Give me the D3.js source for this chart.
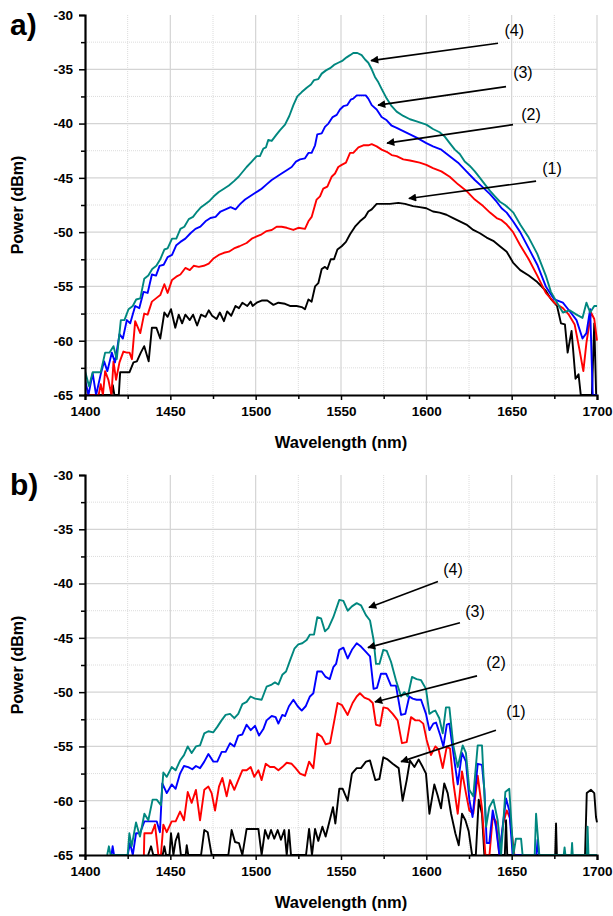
<!DOCTYPE html>
<html>
<head>
<meta charset="utf-8">
<script src="https://cdn.jsdelivr.net/npm/d3@7"></script>
<style>
  body { margin: 0; background: #fff; }
  svg { display: block; font-family: Arial, "Liberation Sans", sans-serif; }
</style>
</head>
<body>
<svg id="chart"></svg>
<script>
// ---- data: [wavelength nm, power dBm] ----
const a1 = [[1400,-65],[1415.5,-65],[1416.3,-64.1],[1417.2,-65],[1419.8,-65],[1420.6,-62.9],[1423.5,-62.9],[1426.1,-62.9],[1428.4,-62],[1430.4,-61.9],[1432.7,-61.1],[1434.7,-60.5],[1437.3,-61.9],[1439.2,-58.8],[1441.8,-58.8],[1444.1,-59.8],[1446.5,-57.4],[1448.4,-57.8],[1450.4,-57.1],[1452.9,-58.8],[1454.9,-57.6],[1456.9,-58.4],[1458.8,-57.6],[1461.4,-58.1],[1463.3,-57.6],[1465.7,-58.6],[1468,-57.6],[1470.6,-57.8],[1472.5,-57.2],[1474.5,-57.7],[1477.1,-58],[1479,-57.4],[1481.4,-58.2],[1483.3,-57.3],[1485.7,-57.7],[1488.2,-56.8],[1490.2,-57],[1492.2,-56.5],[1495.1,-56.8],[1497.1,-56.4],[1498.2,-56.8],[1500.6,-56.5],[1503.5,-56.3],[1506.8,-56.3],[1510.4,-56.7],[1513.3,-56.5],[1517.2,-56.6],[1520.1,-56.8],[1524,-56.8],[1527,-56.9],[1528.9,-57.1],[1530.9,-56.2],[1532.8,-56.4],[1534.8,-55],[1536.7,-54.7],[1538.7,-53.4],[1540.6,-53.2],[1542,-53.4],[1544,-52.5],[1545.9,-52.5],[1547.9,-51.6],[1550.4,-51.3],[1552.9,-50.9],[1555.3,-50.2],[1558.2,-49.5],[1561.1,-49],[1564.1,-48.6],[1566,-48.1],[1568,-47.9],[1570.9,-47.4],[1574.8,-47.4],[1578.7,-47.4],[1583.6,-47.3],[1587.5,-47.4],[1592.2,-47.6],[1596.1,-47.7],[1600,-47.8],[1603.9,-48.1],[1607.8,-48.2],[1611.8,-48.4],[1615.7,-48.7],[1619.6,-49],[1623.5,-49.3],[1627.5,-49.8],[1631.4,-50.1],[1635.3,-50.5],[1639.2,-50.8],[1643.1,-51.3],[1647.1,-51.8],[1650.8,-52.8],[1655,-53.5],[1660,-54],[1665,-54.6],[1670,-55.4],[1673.2,-56.2],[1676.6,-56.8],[1678.9,-58.4],[1681.2,-58.5],[1682.8,-61.1],[1685.1,-59.1],[1687.4,-63.5],[1689.2,-63.1],[1690.5,-65],[1697,-65],[1698.4,-58.4],[1699.5,-65]];

const a2 = [[1400,-65],[1408,-65],[1409.2,-64],[1410.5,-65],[1411.8,-62.8],[1413.7,-63.6],[1415.5,-65],[1416.7,-61.9],[1418.2,-63.6],[1420.2,-62],[1422.5,-61],[1424.5,-61.1],[1426.1,-61.1],[1427.5,-61.7],[1429.4,-58.2],[1432.4,-59.3],[1434.7,-57.5],[1436.7,-57.6],[1439.2,-56.4],[1441.6,-56.1],[1444.1,-55.8],[1446.5,-54.8],[1448.4,-55.6],[1451,-54.4],[1453.5,-54.1],[1455.9,-53.9],[1458.8,-53.3],[1461.4,-53.5],[1463.7,-53.1],[1466.7,-53.2],[1469.6,-53.1],[1472.5,-52.9],[1475.5,-52.4],[1478.4,-52.1],[1481.4,-51.9],[1484.3,-51.8],[1487.3,-51.5],[1490.5,-51.3],[1494.7,-51],[1497.7,-50.6],[1500.6,-50.4],[1503.5,-50.2],[1506.4,-49.9],[1509.4,-49.8],[1512.3,-49.5],[1515.2,-49.5],[1518.2,-49.6],[1522.1,-49.8],[1525,-49.6],[1528.9,-49.7],[1530.9,-49],[1532.8,-48.6],[1535.7,-47],[1537.7,-46.7],[1539.6,-46],[1542,-45.8],[1544.5,-44.9],[1546.5,-44.6],[1548.4,-44],[1550.4,-43.8],[1552.9,-43.6],[1555.3,-42.7],[1557.2,-42.7],[1560.2,-42.2],[1563.1,-42],[1566,-42],[1568,-41.9],[1570.9,-42.1],[1573.8,-42.4],[1576.8,-42.6],[1579.7,-42.9],[1582.6,-43],[1586.5,-43.3],[1590.4,-43.4],[1596.1,-43.6],[1600,-43.8],[1603.9,-44.1],[1608.8,-44.4],[1613.7,-44.9],[1618.6,-45.6],[1623.5,-46.2],[1628.4,-47],[1633.3,-47.6],[1637.3,-48.2],[1641.2,-48.7],[1644.1,-48.9],[1647.1,-49.3],[1650.8,-50],[1655,-51.2],[1660,-52.5],[1665,-54],[1670,-55.6],[1675,-56.5],[1680,-57],[1683.5,-57.6],[1686.9,-58.5],[1689.7,-60.8],[1692,-62.8],[1693.8,-60.2],[1696.5,-57.4],[1698.4,-58],[1700,-60]];

const a3 = [[1400,-63.6],[1402,-65],[1404.5,-63],[1406.5,-65],[1409.2,-63.1],[1411.2,-61.9],[1413.1,-62.8],[1415.7,-61.1],[1417.6,-62],[1420.2,-59.4],[1422.2,-59.8],[1424.5,-58.1],[1426.5,-58.4],[1429.4,-56.8],[1431.8,-57],[1434.3,-55.5],[1436.7,-55.6],[1439.2,-53.9],[1441.6,-54],[1443.7,-53.1],[1446.1,-53],[1448.4,-52.3],[1451,-52.1],[1453.5,-51.2],[1455.9,-50.9],[1458.8,-50.6],[1461.8,-50.1],[1464.7,-49.7],[1467.6,-49.5],[1470.6,-49],[1473.5,-48.7],[1476.5,-48.6],[1479.4,-48.1],[1482.4,-47.9],[1485.3,-47.7],[1488.2,-47.9],[1491,-47.4],[1493.8,-47],[1496.7,-46.7],[1499.6,-46.4],[1501.6,-46.2],[1503.5,-46],[1506.4,-45.6],[1509.4,-45.2],[1512.3,-44.9],[1515.2,-44.6],[1518.2,-44.3],[1521.1,-44],[1523.6,-43.5],[1526,-43.3],[1528.9,-43.2],[1530.9,-42.7],[1532.8,-42.7],[1534.8,-42],[1536.1,-41],[1538.7,-40.9],[1540.6,-40.3],[1542.6,-40],[1545.1,-39.4],[1547.5,-39.2],[1549.4,-38.7],[1551.4,-38.4],[1553.7,-38.3],[1555.7,-37.8],[1557.2,-37.7],[1559.2,-37.4],[1562,-37.4],[1564.5,-37.4],[1566,-37.7],[1568,-38.3],[1570.9,-38.7],[1573.8,-39.4],[1576.8,-39.7],[1579.7,-40.2],[1582.6,-40.4],[1586.5,-40.7],[1590.4,-41],[1594.3,-41.3],[1600,-41.8],[1603.9,-42.1],[1608.8,-42.4],[1613.7,-43],[1618.6,-43.6],[1623.5,-44.4],[1628.4,-45.2],[1633.3,-45.9],[1637.3,-46.5],[1641.2,-47.2],[1644.1,-47.8],[1647.1,-48.2],[1650.8,-49],[1655,-50],[1660,-51.5],[1665,-53],[1670,-55],[1675,-56.2],[1680,-56.5],[1684.6,-57.4],[1688,-58.1],[1691.5,-59.8],[1693.8,-59.3],[1696,-57.1],[1697.5,-65],[1700,-65]];

const a4 = [[1400,-62.8],[1402.4,-64.2],[1404.5,-62.9],[1409.2,-62.9],[1411.8,-61.1],[1414.3,-61.1],[1416.7,-60.5],[1418.6,-61.7],[1421,-58.1],[1423.1,-58.1],[1425.5,-57.1],[1428,-56.8],[1430,-56.2],[1432.4,-56.1],[1434.7,-54.3],[1437.1,-54],[1439.4,-53.4],[1441.8,-53.1],[1444.1,-52.5],[1446.5,-51.6],[1448.4,-51.5],[1451,-50.6],[1453.5,-50.6],[1455.9,-49.7],[1458.2,-49.5],[1460.8,-48.8],[1463.3,-48.6],[1465.7,-48.1],[1468,-47.7],[1470.6,-47.4],[1473.1,-47.1],[1475.5,-46.7],[1478.4,-46.3],[1481.4,-46],[1484.3,-45.7],[1487.3,-45.3],[1490,-44.9],[1494.7,-44],[1497.7,-43.5],[1500.6,-43],[1502.5,-43],[1504.5,-42.3],[1506,-42.2],[1507.4,-41.5],[1509.4,-41.6],[1512.3,-41],[1514.3,-40.6],[1517.2,-40.1],[1519.7,-39.3],[1522.1,-38.3],[1524.4,-37.5],[1527,-37.1],[1529.9,-36.7],[1532.4,-36.4],[1534.2,-36],[1536.7,-35.9],[1538.7,-35.4],[1541.2,-35.1],[1543.6,-34.9],[1545.9,-34.6],[1548.4,-34.4],[1551,-34.2],[1553.3,-33.9],[1555.3,-33.7],[1557.2,-33.5],[1559.6,-33.5],[1562.1,-33.7],[1564.1,-34.1],[1566,-34.4],[1568,-35],[1569.9,-35.7],[1571.9,-36.2],[1573.8,-36.8],[1576.8,-37.7],[1579.7,-38.4],[1582.6,-38.9],[1586.5,-39.3],[1590.4,-39.6],[1594.3,-39.8],[1600,-40.1],[1603.9,-40.5],[1607.8,-40.8],[1610.8,-41.2],[1613.7,-41.8],[1616.7,-42.4],[1619.6,-42.8],[1622.5,-43.5],[1625.5,-43.9],[1628.4,-44.4],[1631.4,-45],[1634.3,-45.6],[1637.3,-46.2],[1640.2,-46.7],[1643.1,-47.2],[1646.1,-47.5],[1649,-47.9],[1651,-48.2],[1655,-49.3],[1660,-50.5],[1665,-52],[1670,-54],[1673,-55.5],[1676.6,-56.5],[1680,-57.4],[1684,-57.2],[1688,-57.6],[1691.5,-57.9],[1693.8,-56.5],[1696,-57.4],[1698.4,-56.8],[1700,-56.8]];

const b1 = [[1437,-65],[1438.7,-64.2],[1440,-65],[1445.5,-65],[1446.5,-64.2],[1447.5,-65],[1449.5,-65],[1450.4,-63],[1451.8,-65],[1453.1,-63.7],[1454.7,-63],[1456.2,-65],[1459,-65],[1459.6,-64.1],[1460.5,-65],[1468,-65],[1469.9,-62.7],[1471.9,-62.9],[1474.2,-65],[1484,-65],[1485.9,-62.7],[1487.9,-63.8],[1490.2,-63.9],[1492.2,-65],[1494.7,-62.6],[1501.6,-62.6],[1503.5,-65],[1505.5,-62.7],[1507.4,-63.5],[1509,-62.7],[1510.9,-63.5],[1512.9,-62.7],[1514.8,-63.6],[1516.8,-62.7],[1518.2,-65],[1519.5,-62.7],[1520.7,-65],[1529.5,-65],[1531.3,-62.6],[1533,-65],[1534.8,-62.6],[1536.7,-63.7],[1539.1,-62.4],[1541,-63.3],[1543.4,-61.8],[1545.3,-60.6],[1546.7,-62.1],[1549,-58.9],[1551,-58.9],[1553.9,-60],[1556.4,-57.5],[1559.2,-57],[1561.7,-57],[1564.6,-56.4],[1567,-56.3],[1570.1,-58.1],[1572.5,-58],[1574.8,-56],[1577.3,-56.2],[1580.3,-56.6],[1583.8,-57],[1586.1,-60],[1588.5,-58.1],[1590.4,-56.3],[1593,-56.9],[1595.5,-56.2],[1597.9,-56.9],[1599.8,-57.5],[1601.8,-61.2],[1604.7,-58.5],[1606.6,-59.5],[1608.6,-60.7],[1610.5,-58.4],[1612.5,-59.3],[1614.5,-61.2],[1617,-63],[1619,-64.1],[1620.9,-61.2],[1622.9,-61.8],[1624.8,-62.8],[1626.8,-65],[1629,-65],[1630.7,-59.9],[1632.6,-61.2],[1634,-65],[1646,-65],[1646.7,-61.8],[1647.4,-65],[1675.5,-65],[1676,-62.1],[1676.5,-65],[1693,-65],[1694,-59.3],[1696.5,-59],[1698.4,-59.3],[1699.4,-61.5],[1700,-62]];

const b2 = [[1434.5,-65],[1434.8,-63],[1439.1,-63],[1441,-62.2],[1443,-65],[1444.5,-65],[1445.9,-62.2],[1447.9,-62.9],[1450.8,-61.9],[1453.1,-61.9],[1455.7,-61],[1458,-61.8],[1460.2,-59.2],[1462.5,-60.2],[1465,-59],[1467.4,-61.8],[1469.9,-59],[1472.3,-58.7],[1474.2,-59.3],[1476.2,-60.9],[1478.5,-58.7],[1480.5,-57.9],[1483,-59.6],[1485,-58.1],[1487.5,-59],[1489.8,-58.1],[1492.2,-57.2],[1494.7,-57.2],[1497.1,-56.9],[1499.2,-57.8],[1501.6,-57.2],[1503.5,-58.1],[1505.9,-56.6],[1508.4,-56.9],[1510.9,-56.9],[1513.3,-57.2],[1515.6,-56.9],[1518.2,-56.5],[1521.1,-56.6],[1523.4,-57],[1526,-57.5],[1528.9,-57.7],[1531.3,-56.4],[1533.8,-57],[1536.1,-53.8],[1538.7,-54.1],[1541,-54.8],[1543.6,-54.7],[1546.1,-52.6],[1548,-51],[1550.6,-51.2],[1553.9,-52.1],[1556.8,-51],[1559.2,-50.4],[1561.1,-50.1],[1563.7,-50.5],[1566.6,-50.7],[1568.6,-51],[1570.5,-53],[1572.9,-53.1],[1574.8,-51.4],[1577.3,-51.5],[1580.3,-52],[1583.2,-52.6],[1585.7,-54.7],[1588.5,-54.6],[1591,-52.3],[1593.6,-52.6],[1595.9,-52.6],[1598.2,-52.9],[1600.2,-54.4],[1602.7,-55.8],[1605.3,-55],[1607.2,-55.3],[1609.6,-57],[1612,-55],[1613.9,-55.2],[1615.8,-58.3],[1618.4,-61.2],[1620.9,-57.3],[1623.2,-59.3],[1625.2,-60.9],[1627.5,-61.2],[1630.1,-57.7],[1632.6,-60.7],[1634.6,-65],[1637,-65],[1638.9,-61.5],[1640.8,-61.9],[1642.8,-65],[1645.1,-62.1],[1647.1,-60.9],[1649,-61.6],[1651.6,-65]];

const b3 = [[1415.5,-65],[1416.2,-64.2],[1417,-65],[1425,-65],[1426.4,-63.9],[1428,-65],[1429.9,-63],[1432.2,-63],[1434.8,-61.9],[1437.1,-61.9],[1439.6,-61.9],[1442,-61.9],[1443.9,-62.9],[1445.3,-58.4],[1447.9,-59.3],[1450.8,-58.5],[1453.1,-58.9],[1455.7,-57.5],[1458,-56.8],[1460.5,-56.9],[1462.9,-57.1],[1465,-56.8],[1467.4,-57],[1469.9,-56.4],[1472.3,-55.7],[1475.2,-56.4],[1477.5,-56.4],[1480.1,-55.5],[1482.4,-55.5],[1485,-54.7],[1487.5,-55],[1489.8,-54],[1492.2,-53.9],[1494.7,-53],[1497.1,-53.5],[1499.6,-53.1],[1502,-54],[1504.5,-53.4],[1506.4,-52.6],[1509.4,-52.2],[1511.7,-52.3],[1513.3,-52.9],[1515.6,-52.1],[1517.2,-52.2],[1519.5,-51.3],[1522.1,-50.7],[1524.6,-51.3],[1527,-51.7],[1529.3,-51.3],[1531.8,-50.4],[1533.8,-50.1],[1536.1,-48.1],[1538.7,-48.1],[1541,-48.6],[1543.4,-48.8],[1545.5,-47.7],[1547.1,-47.4],[1549,-46.1],[1551.4,-45.9],[1553.9,-46.9],[1556.4,-46.1],[1559.2,-45.5],[1561.7,-45.8],[1564.6,-46.3],[1567,-46.7],[1569.1,-49.7],[1571.1,-49.6],[1573.4,-48.3],[1576.4,-48.3],[1579.3,-49.4],[1582.2,-49.4],[1585.2,-52.1],[1587.7,-52],[1590,-50.4],[1592,-50.6],[1594.3,-50.7],[1596.9,-50.7],[1599.8,-52],[1601.8,-53.5],[1604.1,-52.9],[1605.7,-52.8],[1608.2,-54],[1610,-55],[1612,-53],[1613.5,-52.9],[1615.8,-55.6],[1618.4,-58.5],[1620.9,-55.6],[1623.2,-56.4],[1625.2,-59.9],[1627.1,-61.5],[1630.1,-56.6],[1632.6,-56.7],[1634,-59],[1635.4,-63.9],[1636.9,-63.9],[1638.9,-60.9],[1640.8,-62.4],[1642.8,-65],[1644.7,-62.4],[1646.7,-59.8],[1648.6,-60.9],[1650.6,-65],[1664.5,-65],[1665.2,-63.6],[1666,-65]];

const b4 = [[1413,-65],[1414,-64.2],[1415,-65],[1425,-65],[1426,-63],[1427.3,-64.2],[1429.9,-62],[1432.2,-63.3],[1434.8,-61.2],[1437.1,-61.8],[1439.6,-59.9],[1442,-59.9],[1444.5,-60.4],[1445.9,-57.4],[1447.9,-57.8],[1450.8,-56.9],[1453.1,-57.2],[1455.7,-56.3],[1458,-55.8],[1460.2,-55],[1462.5,-55.6],[1465,-55],[1467.4,-54.9],[1469.9,-53.8],[1472.3,-53.6],[1475.2,-53.7],[1477.5,-53.2],[1480,-52.6],[1482.4,-52.1],[1485,-52],[1487.5,-52.4],[1489.8,-52],[1492.2,-51.1],[1494.7,-50.9],[1497,-50.4],[1499.6,-50.6],[1503.5,-50.7],[1506.4,-49.5],[1509.4,-49.3],[1511.3,-49.1],[1513.3,-49.3],[1515.6,-48.4],[1517.8,-48.1],[1520.1,-47.1],[1522.7,-46],[1525,-45.6],[1527.3,-45.5],[1529.9,-45.2],[1531.8,-44.7],[1534.2,-44.7],[1536.1,-43.1],[1538.3,-43.2],[1540.6,-44.4],[1542.6,-44.1],[1545.5,-43.1],[1549,-41.5],[1551.4,-41.6],[1553.9,-42.5],[1556.4,-42.1],[1559.2,-41.8],[1561.7,-42],[1564.6,-42.9],[1567,-43.4],[1569.1,-45.2],[1570.5,-47.4],[1572.5,-47.4],[1574.8,-46.1],[1576.8,-46.2],[1579.3,-47.2],[1582.2,-48.9],[1585.2,-50.4],[1587.1,-50],[1589.1,-50.4],[1591.6,-48.6],[1594.3,-48.8],[1596.9,-48.9],[1599.8,-49.7],[1601.8,-52],[1603.7,-51.8],[1605.3,-51.7],[1607.6,-52.4],[1609.6,-53.8],[1611.5,-51.4],[1613.5,-51.4],[1615.8,-54.9],[1618.4,-56.9],[1621.3,-54.9],[1623.2,-55.6],[1625.2,-59],[1627.5,-59.6],[1630.1,-54.9],[1632.6,-54.9],[1635,-62.4],[1636.9,-60.6],[1639.3,-59.9],[1641.8,-61.8],[1643.8,-65],[1646.3,-59.2],[1648.6,-58.9],[1651,-65],[1652.5,-63.5],[1655.5,-63.5],[1656.4,-65],[1663.5,-65],[1664.3,-61.2],[1666.2,-65],[1680.5,-65],[1681,-64.3],[1681.5,-65],[1685,-65],[1685.4,-63.9],[1685.8,-65],[1694,-65],[1694.5,-62.4],[1695,-65],[1700,-65]];

// annotation labels and arrow ends, in data units
const labelsA = [
  {t: "(4)", tx: 1651.5, ty: -31.4, x1: 1642, y1: -32.6, x2: 1567.6, y2: -34.2},
  {t: "(3)", tx: 1656.6, ty: -35.3, x1: 1646.7, y1: -36.6, x2: 1571.7, y2: -38.3},
  {t: "(2)", tx: 1661.3, ty: -39.2, x1: 1650.8, y1: -40.1, x2: 1577, y2: -41.8},
  {t: "(1)", tx: 1673.6, ty: -44.1, x1: 1664.3, y1: -45.3, x2: 1589.8, y2: -46.9}
];
const labelsB = [
  {t: "(4)", tx: 1615.6, ty: -38.7, x1: 1606.8, y1: -39.8, x2: 1566.4, y2: -42.2},
  {t: "(3)", tx: 1628.5, ty: -42.6, x1: 1619.7, y1: -43.6, x2: 1565.8, y2: -45.9},
  {t: "(2)", tx: 1640.8, ty: -47.3, x1: 1629.7, y1: -48.5, x2: 1569.9, y2: -50.9},
  {t: "(1)", tx: 1652.5, ty: -51.8, x1: 1640.8, y1: -53.5, x2: 1585.2, y2: -56.4}
];

const xMajor = [1400, 1450, 1500, 1550, 1600, 1650, 1700];
const xMinor = [1425, 1475, 1525, 1575, 1625, 1675];
const yMajor = [-65, -60, -55, -50, -45, -40, -35, -30];
const yMinor = [-62.5, -57.5, -52.5, -47.5, -42.5, -37.5, -32.5];
const colors = ["#000000", "#ff0000", "#0000ff", "#00877f"];

// ---- drawing ----
const W = 613, H = 916;
const svg = d3.select("#chart").attr("width", W).attr("height", H);
svg.append("rect").attr("width", W).attr("height", H).attr("fill", "#fff");

svg.append("defs").append("marker")
   .attr("id", "arrow")
   .attr("viewBox", "0 0 10 10")
   .attr("refX", 9).attr("refY", 5)
   .attr("markerWidth", 6).attr("markerHeight", 5)
   .attr("markerUnits", "strokeWidth")
   .attr("orient", "auto")
   .append("path")
   .attr("d", "M0,0 L10,5 L0,10 Z")
   .attr("fill", "#000");

function drawPanel(top, letter, series, labels, clipId) {
  const left = 85, right = 597, h = 380;
  const x = d3.scaleLinear().domain([1400, 1700]).range([left, right]);
  const y = d3.scaleLinear().domain([-65, -30]).range([top + h, top]);
  const g = svg.append("g");

  // grid
  g.selectAll(".gxm").data(xMinor).join("line")
   .attr("x1", d => x(d)).attr("x2", d => x(d))
   .attr("y1", top).attr("y2", top + h)
   .attr("stroke", "#dcdcdc").attr("stroke-dasharray", "1,1");
  g.selectAll(".gym").data(yMinor).join("line")
   .attr("x1", left).attr("x2", right)
   .attr("y1", d => y(d)).attr("y2", d => y(d))
   .attr("stroke", "#dcdcdc").attr("stroke-dasharray", "1,1");
  g.selectAll(".gx").data(xMajor.slice(1)).join("line")
   .attr("x1", d => x(d)).attr("x2", d => x(d))
   .attr("y1", top).attr("y2", top + h)
   .attr("stroke", "#d4d4d4").attr("stroke-width", 1.2);
  g.selectAll(".gy").data(yMajor.slice(1, -1)).join("line")
   .attr("x1", left).attr("x2", right)
   .attr("y1", d => y(d)).attr("y2", d => y(d))
   .attr("stroke", "#d4d4d4").attr("stroke-width", 1.2);

  // series
  svg.append("clipPath").attr("id", clipId).append("rect")
     .attr("x", left).attr("y", top - 1).attr("width", right - left + 1).attr("height", h + 1);
  const line = d3.line().x(d => x(d[0])).y(d => y(d[1]));
  g.append("g").attr("clip-path", `url(#${clipId})`)
   .selectAll("path").data(series).join("path")
   .attr("d", d => line(d))
   .attr("fill", "none")
   .attr("stroke", (d, i) => colors[i])
   .attr("stroke-width", 1.9)
   .attr("stroke-linejoin", "round");

  // axes
  const fmt = d => String(d);
  const ax = g.append("g").attr("transform", `translate(0,${top + h})`)
   .call(d3.axisBottom(x).tickValues(xMajor).tickFormat(fmt).tickSize(5).tickPadding(6));
  g.append("g").attr("transform", `translate(0,${top + h})`)
   .call(d3.axisBottom(x).tickValues(xMinor).tickFormat("").tickSize(4))
   .select(".domain").remove();
  const ay = g.append("g").attr("transform", `translate(${left},0)`)
   .call(d3.axisLeft(y).tickValues(yMajor).tickFormat(fmt).tickSize(6).tickPadding(6));
  g.append("g").attr("transform", `translate(${left},0)`)
   .call(d3.axisLeft(y).tickValues(yMinor).tickFormat("").tickSize(4))
   .select(".domain").remove();
  [ax, ay].forEach(a => {
    a.select(".domain").attr("stroke-width", 2.2);
    a.selectAll("text").attr("font-size", 13.5).attr("font-weight", "bold")
     .attr("font-family", "Arial, 'Liberation Sans', sans-serif").attr("fill", "#000");
  });
  g.selectAll(".tick line").attr("stroke-width", 1.5);

  // axis titles
  g.append("text").attr("x", (left + right) / 2).attr("y", top + h + 53)
   .attr("text-anchor", "middle").attr("font-size", 16.5).attr("font-weight", "bold")
   .text("Wavelength (nm)");
  g.append("text").attr("transform", `translate(23,${top + h / 2}) rotate(-90)`)
   .attr("text-anchor", "middle").attr("font-size", 16).attr("font-weight", "bold")
   .text("Power (dBm)");

  // panel letter
  g.append("text").attr("x", 10).attr("y", top + 20)
   .attr("font-size", 30).attr("font-weight", "bold").text(letter);

  // annotations
  labels.forEach(l => {
    g.append("line")
     .attr("x1", x(l.x1)).attr("y1", y(l.y1))
     .attr("x2", x(l.x2)).attr("y2", y(l.y2))
     .attr("stroke", "#000").attr("stroke-width", 1.6)
     .attr("marker-end", "url(#arrow)");
    g.append("text").attr("x", x(l.tx)).attr("y", y(l.ty))
     .attr("text-anchor", "middle").attr("dy", "0.35em")
     .attr("font-size", 16).text(l.t);
  });
}

drawPanel(15, "a)", [a1, a2, a3, a4], labelsA, "clipA");
drawPanel(475, "b)", [b1, b2, b3, b4], labelsB, "clipB");
</script>
</body>
</html>
